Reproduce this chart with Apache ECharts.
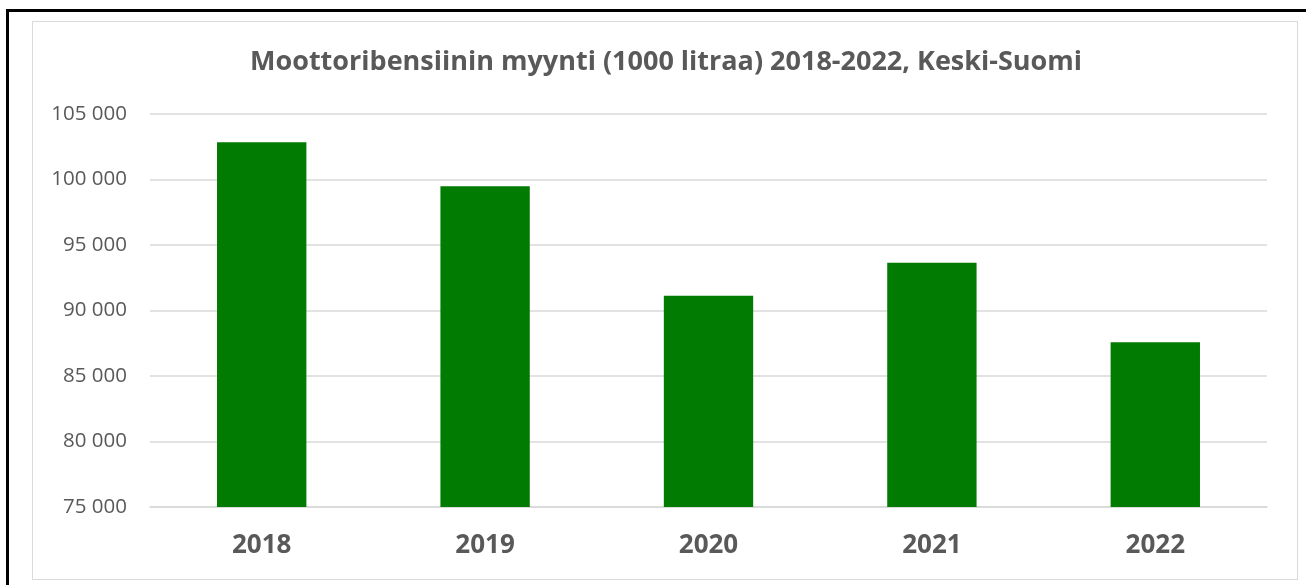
<!DOCTYPE html>
<html lang="fi">
<head>
    <meta charset="UTF-8">
    <title>Moottoribensiinin myynti</title>
    <script src="https://cdn.jsdelivr.net/npm/echarts@6/dist/echarts.min.js"></script>
    <style>
        html, body { margin: 0; padding: 0; background: #fff; overflow: hidden; }
        #frame {
            position: absolute; left: 6px; top: 9px; width: 1400px; height: 700px;
            border-left: 3px solid #000; border-top: 3px solid #000;
        }
        #box {
            position: absolute; left: 32px; top: 21px; width: 1264px; height: 557px;
            border: 1px solid #d9d9d9; background: #fff;
        }
        #main { position: absolute; left: 0; top: 0; width: 1306px; height: 585px; }
    </style>
</head>
<body>
<div id="frame"></div>
<div id="box"></div>
<div id="main"></div>
<script>
    var years = ['2018', '2019', '2020', '2021', '2022'];
    var sales = [102840, 99490, 91120, 93650, 87570];
    var yMin = 75000, yMax = 105000, yStep = 5000;

    var chart = echarts.init(document.getElementById('main'));
    var option = {
        backgroundColor: 'transparent',
        animation: false,
        title: {
            text: 'Moottoribensiinin myynti (1000 litraa) 2018-2022, Keski-Suomi',
            left: 245,
            top: 44,
            textStyle: {
                fontFamily: 'Open Sans',
                fontSize: 27,
                fontWeight: 'bold',
                color: '#595959'
            }
        },
        grid: { left: 150, right: 39, top: 114, bottom: 78 },
        xAxis: {
            type: 'category',
            data: years,
            axisTick: { show: false },
            axisLine: { lineStyle: { color: '#d9d9d9', width: 1.5 } },
            axisLabel: {
                margin: 26,
                fontFamily: 'Open Sans',
                fontSize: 26,
                fontWeight: 'bold',
                color: '#595959'
            }
        },
        yAxis: {
            type: 'value',
            min: yMin,
            max: yMax,
            interval: yStep,
            axisLine: { show: false },
            axisTick: { show: false },
            splitLine: { lineStyle: { color: '#d9d9d9', width: 1.5 } },
            axisLabel: {
                margin: 23,
                fontFamily: 'Open Sans',
                fontSize: 20.5,
                color: '#595959',
                formatter: function (v) {
                    return String(v).replace(/\B(?=(\d{3})+(?!\d))/g, ' ');
                }
            }
        },
        series: [{
            type: 'bar',
            data: sales,
            barCategoryGap: '60%',
            itemStyle: { color: '#027b02' }
        }]
    };
    chart.setOption(option);
</script>
</body>
</html>
